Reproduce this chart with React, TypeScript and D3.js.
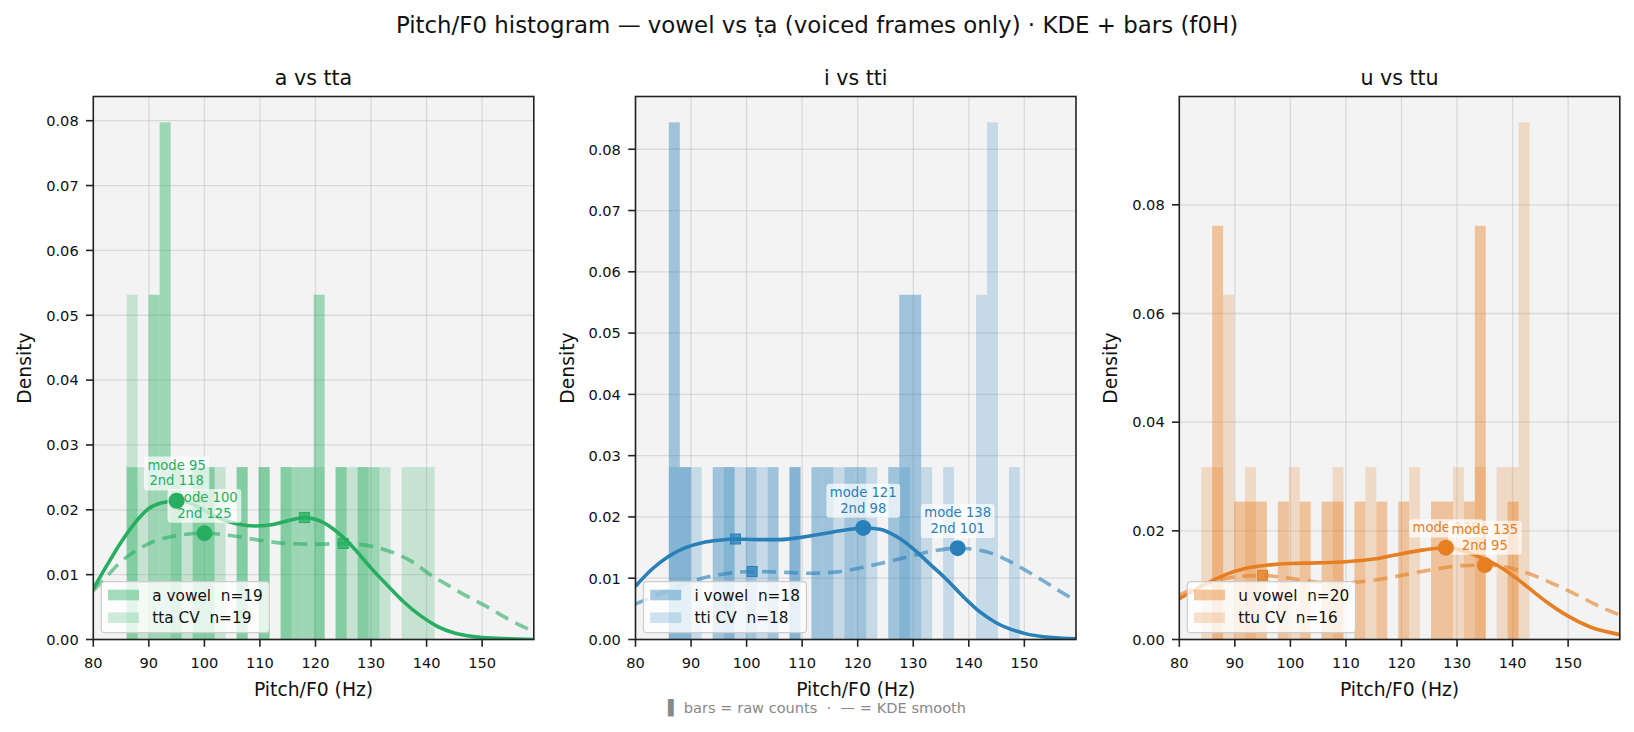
import React from 'react';
import * as d3 from 'd3';

const W = 1634;
const H = 732;
const FONT = '"DejaVu Sans", Verdana, sans-serif';

// shared frame
const TOP = 96.5;
const BOTTOM = 639.5;
const PW = 440.5;
const LEFTS = [93.3, 635.5, 1179.3];
const X_MIN = 80;
const X_MAX = 159.3;
const xTicks = [80, 90, 100, 110, 120, 130, 140, 150];

// ---- a vs tta ----
const aBins = { start: 86.0, width: 1.98 };
const aVowelCounts = [1, 0, 2, 3, 1, 0, 1, 1, 0, 0, 1, 0, 1, 0, 1, 1, 1, 2, 0, 1, 0, 1, 1, 0, 0, 0, 0, 0];
const ttaCounts = [2, 1, 0, 0, 1, 1, 1, 1, 1, 0, 1, 0, 1, 0, 1, 0, 0, 1, 0, 1, 1, 1, 0, 1, 0, 1, 1, 1];
const aVowelKde: [number, number][] = [
  [80, 0.0078], [82.5, 0.0115], [85, 0.015], [87.5, 0.018], [90, 0.0202], [92.5, 0.0211],
  [95, 0.0214], [97.5, 0.021], [100, 0.0199], [103, 0.0186], [106, 0.0178], [109, 0.0175],
  [112, 0.0177], [115, 0.0183], [118, 0.0188], [121, 0.0182], [124, 0.0165], [127, 0.014],
  [130, 0.011], [133, 0.0083], [136, 0.0057], [139, 0.0036], [142, 0.002], [145, 0.001],
  [150, 0.0003], [155, 0.0001], [159.3, 0.0],
];
const ttaKde: [number, number][] = [
  [80, 0.0075], [82.5, 0.0098], [85, 0.012], [87.5, 0.0136], [90, 0.0148], [95, 0.016],
  [100, 0.0164], [105, 0.016], [110, 0.0153], [115, 0.0148], [120, 0.0147], [125, 0.0148],
  [130, 0.0144], [134, 0.0134], [137, 0.0122], [141, 0.0098], [143, 0.0088], [147, 0.0068],
  [151, 0.005], [155, 0.003], [159.3, 0.0012],
];
const aVowelModes = [95, 118];
const ttaModes = [100, 125];
const aYTicks = [0, 0.01, 0.02, 0.03, 0.04, 0.05, 0.06, 0.07, 0.08];

// ---- i vs tti ----
const iBins = { start: 86.0, width: 1.975 };
const iVowelCounts = [3, 1, 0, 0, 1, 1, 0, 1, 0, 1, 0, 1, 0, 1, 1, 0, 1, 1, 0, 0, 1, 2, 2, 0, 0, 0, 0, 0, 0, 0, 0, 0];
const ttiCounts = [1, 1, 1, 0, 0, 1, 1, 0, 1, 0, 0, 1, 0, 0, 0, 1, 0, 0, 1, 0, 0, 1, 0, 1, 0, 1, 0, 0, 2, 3, 0, 1];
const iVowelKde: [number, number][] = [
  [80, 0.0087], [83, 0.0115], [86, 0.0136], [89, 0.015], [92, 0.0158], [95, 0.0162],
  [98, 0.0164], [102, 0.0163], [106, 0.0163], [110, 0.0167], [114, 0.0173], [118, 0.0179],
  [121, 0.0182], [124, 0.018], [127, 0.0168], [130, 0.0148], [133, 0.0123], [136, 0.0098],
  [139, 0.007], [142, 0.0045], [145, 0.0027], [150, 0.001], [155, 0.0003], [159.3, 0.0001],
];
const ttiKde: [number, number][] = [
  [80, 0.0058], [84, 0.0073], [88, 0.0088], [92, 0.01], [96, 0.0107], [101, 0.0111],
  [106, 0.011], [111, 0.0108], [116, 0.011], [120, 0.0116], [125, 0.0126], [130, 0.0137],
  [134, 0.0145], [138, 0.0149], [141, 0.0147], [144, 0.0141], [147, 0.0129], [150, 0.0114],
  [153, 0.0098], [156, 0.0081], [159.3, 0.0063],
];
const iVowelModes = [121, 98];
const ttiModes = [138, 101];
const iYTicks = [0, 0.01, 0.02, 0.03, 0.04, 0.05, 0.06, 0.07, 0.08];

// ---- u vs ttu ----
const uBins = { start: 83.95, width: 1.97 };
const uVowelCounts = [0, 3, 0, 1, 1, 1, 0, 1, 0, 1, 0, 1, 1, 0, 1, 0, 1, 0, 1, 0, 0, 1, 1, 0, 1, 3, 0, 0, 1, 0];
const ttuCounts = [1, 1, 2, 0, 1, 0, 0, 0, 1, 0, 0, 0, 1, 0, 0, 1, 0, 0, 0, 1, 0, 0, 0, 1, 0, 1, 0, 1, 1, 3];
const uVowelKde: [number, number][] = [
  [80, 0.0075], [84, 0.0098], [88, 0.0118], [92, 0.0131], [96, 0.0137], [100, 0.014],
  [105, 0.0141], [110, 0.0143], [115, 0.0148], [120, 0.0158], [124, 0.0165], [128, 0.0169],
  [131, 0.0164], [134, 0.0152], [137, 0.0138], [140, 0.0118], [143, 0.0094], [146, 0.007],
  [150, 0.0043], [154, 0.0023], [159.3, 0.0009],
];
const ttuKde: [number, number][] = [
  [80, 0.0082], [84, 0.01], [88, 0.0112], [92, 0.0117], [95, 0.0118], [99, 0.0114],
  [103, 0.0108], [107, 0.0104], [111, 0.0105], [115, 0.0109], [119, 0.0116], [123, 0.0124],
  [127, 0.0131], [131, 0.0136], [135, 0.0137], [139, 0.0133], [143, 0.0121], [147, 0.0104],
  [151, 0.0085], [155, 0.0064], [159.3, 0.0045],
];
const uVowelModes = [128];
const ttuModes = [135, 95];
const uYTicks = [0, 0.02, 0.04, 0.06, 0.08];

type Series = { label: string; counts: number[]; kde: [number, number][]; modes: number[] };
type PanelSpec = {
  title: string;
  color: string;
  bins: { start: number; width: number };
  yTicks: number[];
  vowel: Series;
  cv: Series;
};

const panels: PanelSpec[] = [
  {
    title: 'a vs tta', color: '#27ae60', bins: aBins, yTicks: aYTicks,
    vowel: { label: 'a vowel', counts: aVowelCounts, kde: aVowelKde, modes: aVowelModes },
    cv: { label: 'tta CV', counts: ttaCounts, kde: ttaKde, modes: ttaModes },
  },
  {
    title: 'i vs tti', color: '#2980b9', bins: iBins, yTicks: iYTicks,
    vowel: { label: 'i vowel', counts: iVowelCounts, kde: iVowelKde, modes: iVowelModes },
    cv: { label: 'tti CV', counts: ttiCounts, kde: ttiKde, modes: ttiModes },
  },
  {
    title: 'u vs ttu', color: '#e67e22', bins: uBins, yTicks: uYTicks,
    vowel: { label: 'u vowel', counts: uVowelCounts, kde: uVowelKde, modes: uVowelModes },
    cv: { label: 'ttu CV', counts: ttuCounts, kde: ttuKde, modes: ttuModes },
  },
];

const VOWEL_ALPHA = 0.42;
const CV_ALPHA = 0.22;
const LEGEND_FS = 15.3;
const ANN_FS = 13.2;

let measureCtx: CanvasRenderingContext2D | null = null;
function textWidth(s: string, size: number) {
  if (!measureCtx) measureCtx = document.createElement('canvas').getContext('2d');
  if (!measureCtx) return s.length * size * 0.6;
  measureCtx.font = `${size}px "DejaVu Sans"`;
  return measureCtx.measureText(s).width;
}

// value of a sampled curve at xv (linear between samples)
function kdeAt(pts: [number, number][], xv: number) {
  const i = d3.bisector((d: [number, number]) => d[0]).right(pts, xv);
  if (i <= 0) return pts[0][1];
  if (i >= pts.length) return pts[pts.length - 1][1];
  const [x0, y0] = pts[i - 1];
  const [x1, y1] = pts[i];
  return y0 + ((xv - x0) / (x1 - x0)) * (y1 - y0);
}

const fmtY = d3.format('.2f');

function Annotation({ lines, px, py, color }: { lines: string[]; px: number; py: number; color: string }) {
  const lh = 15.7;
  const lastBase = py - 15.3;
  const firstBase = lastBase - lh * (lines.length - 1);
  const tw = d3.max(lines, (l) => textWidth(l, ANN_FS)) || 0;
  const bx = px - tw / 2 - 3.5;
  const by = firstBase - ANN_FS * 1.0;
  const bh = lastBase + ANN_FS * 0.38 - by;
  return (
    <g>
      <rect x={bx} y={by} width={tw + 7} height={bh} rx={3} fill="#ffffff" fillOpacity={0.7} />
      {lines.map((l, i) => (
        <text key={i} x={px} y={firstBase + i * lh} textAnchor="middle" fontSize={ANN_FS} fill={color}>
          {l}
        </text>
      ))}
    </g>
  );
}

function Panel({ p, left, idx }: { p: PanelSpec; left: number; idx: number }) {
  const right = left + PW;
  const x = d3.scaleLinear().domain([X_MIN, X_MAX]).range([left, right]);
  const { start, width } = p.bins;

  const densities = (s: Series) => {
    const n = d3.sum(s.counts);
    return s.counts.map((c) => c / (n * width));
  };
  const dv = densities(p.vowel);
  const dc = densities(p.cv);
  const ymax = 1.05 * (d3.max([...dv, ...dc]) || 0);
  const y = d3.scaleLinear().domain([0, ymax]).range([BOTTOM, TOP]);

  const line = d3
    .line<[number, number]>()
    .x((d) => x(d[0]))
    .y((d) => y(d[1]))
    .curve(d3.curveMonotoneX);

  const clipId = `clip-${idx}`;
  const nV = d3.sum(p.vowel.counts);
  const nC = d3.sum(p.cv.counts);

  const bars = (d: number[], alpha: number, key: string) =>
    d.map((v, k) =>
      v > 0 ? (
        <rect
          key={`${key}-${k}`}
          x={x(start + k * width)}
          width={x(start + (k + 1) * width) - x(start + k * width)}
          y={y(v)}
          height={y(0) - y(v)}
          fill={p.color}
          fillOpacity={alpha}
        />
      ) : null
    );

  const modeLines = (s: Series) =>
    s.modes.length > 1 ? [`mode ${s.modes[0]}`, `2nd ${s.modes[1]}`] : [`mode ${s.modes[0]}`];

  const legendItems = [
    { label: `${p.vowel.label}  n=${nV}`, alpha: VOWEL_ALPHA },
    { label: `${p.cv.label}  n=${nC}`, alpha: CV_ALPHA },
  ];
  const legW = 51 + 6.5 + (d3.max(legendItems, (l) => textWidth(l.label, LEGEND_FS)) || 0);

  return (
    <g>
      <defs>
        <clipPath id={clipId}>
          <rect x={left} y={TOP} width={PW} height={BOTTOM - TOP} />
        </clipPath>
      </defs>
      <rect x={left} y={TOP} width={PW} height={BOTTOM - TOP} fill="#f3f3f3" />

      {/* grid */}
      <g stroke="#b8b8b8" strokeOpacity={0.42} strokeWidth={1.3}>
        {xTicks.map((t) => (
          <line key={`gx${t}`} x1={x(t)} x2={x(t)} y1={TOP} y2={BOTTOM} />
        ))}
        {p.yTicks.map((t) => (
          <line key={`gy${t}`} x1={left} x2={right} y1={y(t)} y2={y(t)} />
        ))}
      </g>

      <g clipPath={`url(#${clipId})`}>
        {bars(dv, VOWEL_ALPHA, 'v')}
        {bars(dc, CV_ALPHA, 'c')}
        <path d={line(p.vowel.kde) || ''} fill="none" stroke={p.color} strokeWidth={3.6} />
        <path
          d={line(p.cv.kde) || ''}
          fill="none"
          stroke={p.color}
          strokeOpacity={0.6}
          strokeWidth={3.6}
          strokeDasharray="14,8"
        />
      </g>

      {/* mode labels */}
      {[p.vowel, p.cv].map((s, i) => (
        <Annotation
          key={`ann${i}`}
          lines={modeLines(s)}
          px={x(s.modes[0])}
          py={y(kdeAt(s.kde, s.modes[0]))}
          color={p.color}
        />
      ))}

      {/* mode markers: circle = main, square = 2nd */}
      {[p.vowel, p.cv].map((s, i) => (
        <g key={`mk${i}`}>
          <circle cx={x(s.modes[0])} cy={y(kdeAt(s.kde, s.modes[0]))} r={8} fill={p.color} />
          {s.modes.length > 1 && (
            <rect
              x={x(s.modes[1]) - 5}
              y={y(kdeAt(s.kde, s.modes[1])) - 5}
              width={10}
              height={10}
              fill={p.color}
              fillOpacity={0.75}
              stroke={p.color}
              strokeWidth={1}
            />
          )}
        </g>
      ))}

      {/* legend */}
      <g>
        <rect
          x={left + 8}
          y={BOTTOM - 57.8}
          width={legW}
          height={51}
          rx={3.5}
          fill="#ffffff"
          fillOpacity={0.8}
          stroke="#cccccc"
          strokeWidth={1.2}
        />
        {legendItems.map((l, i) => {
          const cy = BOTTOM - 44.5 + i * 22.7;
          return (
            <g key={`lg${i}`}>
              <rect x={left + 14.7} y={cy - 5.3} width={31} height={10.6} fill={p.color} fillOpacity={l.alpha} />
              <text x={left + 59} y={cy + 5.5} fontSize={LEGEND_FS} fill="#111" style={{ whiteSpace: 'pre' }}>
                {l.label}
              </text>
            </g>
          );
        })}
      </g>

      {/* spines */}
      <rect x={left} y={TOP} width={PW} height={BOTTOM - TOP} fill="none" stroke="#222" strokeWidth={1.6} />

      {/* x axis */}
      {xTicks.map((t) => (
        <g key={`xt${t}`}>
          <line x1={x(t)} x2={x(t)} y1={BOTTOM} y2={BOTTOM + 7.3} stroke="#222" strokeWidth={1.6} />
          <text x={x(t)} y={BOTTOM + 28.5} textAnchor="middle" fontSize={14.6} fill="#111">
            {t}
          </text>
        </g>
      ))}
      <text x={left + PW / 2} y={696} textAnchor="middle" fontSize={18.75} fill="#111">
        Pitch/F0 (Hz)
      </text>

      {/* y axis */}
      {p.yTicks.map((t) => (
        <g key={`yt${t}`}>
          <line x1={left - 7.3} x2={left} y1={y(t)} y2={y(t)} stroke="#222" strokeWidth={1.6} />
          <text x={left - 14.6} y={y(t) + 5.3} textAnchor="end" fontSize={14.6} fill="#111">
            {fmtY(t)}
          </text>
        </g>
      ))}
      <text
        transform={`translate(${left - 62}, ${(TOP + BOTTOM) / 2}) rotate(-90)`}
        textAnchor="middle"
        fontSize={18.75}
        fill="#111"
      >
        Density
      </text>

      <text x={left + PW / 2} y={84.5} textAnchor="middle" fontSize={20.6} fill="#111">
        {p.title}
      </text>
    </g>
  );
}

export default function App() {
  return (
    <svg
      width={W}
      height={H}
      viewBox={`0 0 ${W} ${H}`}
      style={{ position: 'absolute', left: 0, top: 0, background: '#ffffff', fontFamily: FONT }}
    >
      <rect width={W} height={H} fill="#ffffff" />
      <text x={W / 2} y={33} textAnchor="middle" fontSize={22.9} fill="#111">
        Pitch/F0 histogram — vowel vs ṭa (voiced frames only) · KDE + bars (f0H)
      </text>
      {panels.map((p, i) => (
        <Panel key={p.title} p={p} left={LEFTS[i]} idx={i} />
      ))}
      <text x={W / 2} y={712.5} textAnchor="middle" fontSize={14.6} fill="#888888" style={{ whiteSpace: 'pre' }}>
        ▌ bars = raw counts  ·  — = KDE smooth
      </text>
    </svg>
  );
}
